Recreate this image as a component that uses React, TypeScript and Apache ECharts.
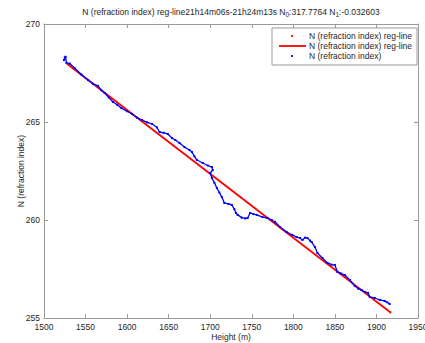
import React, { useEffect, useRef } from 'react';
import * as echarts from 'echarts';

// Measured series: height (m) and refraction index N
const heights = [
  1524, 1525, 1526, 1527, 1531, 1537, 1545, 1553, 1559, 1565, 1569, 1573, 1578, 1583, 1588, 1593,
  1600, 1606, 1612, 1618, 1624, 1630, 1636, 1639, 1644, 1649, 1654, 1658, 1663, 1669, 1675, 1678,
  1681, 1684, 1691, 1697, 1702, 1703, 1700, 1702, 1705, 1708, 1711, 1714, 1717, 1722, 1726, 1729,
  1731, 1733, 1738, 1742, 1745, 1748, 1752, 1756, 1763, 1769, 1774, 1778, 1784, 1792, 1799, 1804,
  1808, 1811, 1814, 1817, 1820, 1822, 1826, 1829, 1835, 1841, 1846, 1850, 1853, 1857, 1862, 1868,
  1874, 1878, 1882, 1886, 1890, 1892, 1898, 1904, 1910, 1913, 1916,
];
const refraction = [
  268.16, 268.30, 268.33, 268.02, 267.98, 267.74, 267.42, 267.14, 266.95, 266.84, 266.62, 266.48, 266.25, 266.02, 265.88, 265.71,
  265.55, 265.41, 265.22, 265.10, 264.98, 264.90, 264.72, 264.49, 264.45, 264.39, 264.18, 264.08, 263.93, 263.72, 263.57, 263.47,
  263.25, 263.06, 262.91, 262.78, 262.70, 262.55, 262.40, 262.14, 261.90, 261.63, 261.40, 261.17, 260.87, 260.82, 260.77, 260.55,
  260.36, 260.26, 260.12, 260.08, 260.10, 260.36, 260.30, 260.26, 260.15, 260.10, 260.00, 259.90, 259.64, 259.39, 259.23, 259.13,
  259.08, 258.98, 259.10, 259.08, 258.95, 258.88, 258.62, 258.32, 258.06, 257.81, 257.72, 257.70, 257.35, 257.28, 257.19, 256.94,
  256.63, 256.50, 256.43, 256.33, 256.28, 256.07, 256.02, 255.92, 255.87, 255.80, 255.71,
];

// Regression line end points (N0 = 317.7764, N1 = -0.032603)
const regHeights = [1528, 1917];
const regValues = [267.96, 255.28];

const xMin = 1500, xMax = 1950, xStep = 50;
const yMin = 255, yMax = 270, yStep = 5;

const legendLabels = [
  'N (refraction index) reg-line',
  'N (refraction index) reg-line',
  'N (refraction index)',
];

const FONT = '"Liberation Sans", Arial, Helvetica, sans-serif';
const AXIS_COLOR = '#999999';
const TEXT_COLOR = '#262626';

export default function App() {
  const ref = useRef<HTMLDivElement>(null);

  useEffect(() => {
    if (!ref.current) return;
    const chart = echarts.init(ref.current, undefined, { renderer: 'svg' });

    const measured = heights.map((h, i) => [h, refraction[i]]);
    const reg = regHeights.map((h, i) => [h, regValues[i]]);

    const axisCommon = {
      type: 'value' as const,
      axisLine: { show: true, lineStyle: { color: AXIS_COLOR, width: 1 } },
      axisTick: { show: true, inside: true, length: 4, lineStyle: { color: AXIS_COLOR } },
      splitLine: { show: false },
    };

    const lx = 272, ly = 28, lw = 145, lh = 37;
    const rows = [36, 46, 56];
    const plain = (v: number) => String(v);

    chart.setOption({
      animation: false,
      grid: { left: 44, right: 7, top: 24, bottom: 25, containLabel: false, outerBoundsMode: 'none' },
      xAxis: [
        {
          ...axisCommon,
          min: xMin, max: xMax, interval: xStep, position: 'bottom',
          axisLabel: { fontSize: 8.5, fontFamily: FONT, color: TEXT_COLOR, margin: 4, formatter: plain },
          name: 'Height (m)', nameLocation: 'middle', nameGap: 14, nameMoveOverlap: false,
          nameTextStyle: { fontSize: 8.5, fontFamily: FONT, color: TEXT_COLOR },
        },
        {
          ...axisCommon,
          min: xMin, max: xMax, interval: xStep, position: 'top',
          axisLabel: { show: false },
        },
      ],
      yAxis: [
        {
          ...axisCommon,
          min: yMin, max: yMax, interval: yStep, position: 'left',
          axisLabel: { fontSize: 8.5, fontFamily: FONT, color: TEXT_COLOR, margin: 4, formatter: plain },
          name: 'N (refraction index)', nameLocation: 'middle', nameGap: 19, nameMoveOverlap: false,
          nameTextStyle: { fontSize: 8.5, fontFamily: FONT, color: TEXT_COLOR },
        },
        {
          ...axisCommon,
          min: yMin, max: yMax, interval: yStep, position: 'right',
          axisLabel: { show: false },
        },
      ],
      series: [
        {
          name: 'reg-dots',
          type: 'scatter',
          data: reg,
          symbolSize: 2,
          itemStyle: { color: '#ff0000' },
          z: 3,
        },
        {
          name: 'reg-line',
          type: 'line',
          data: reg,
          symbol: 'none',
          lineStyle: { color: '#ff0000', width: 1.8 },
          z: 2,
        },
        {
          name: 'N',
          type: 'line',
          data: measured,
          symbol: 'rect',
          symbolSize: 2,
          showSymbol: true,
          itemStyle: { color: '#0000ff' },
          lineStyle: { color: '#0000ff', width: 1.3 },
          z: 4,
        },
      ],
      graphic: [
        {
          type: 'text',
          style: {
            x: 231, y: 12, align: 'center', verticalAlign: 'middle',
            text: '{a|N (refraction index) reg-line21h14m06s-21h24m13s N}{s|0}{a|:317.7764 N}{s|1}{a|:-0.032603}',
            fontFamily: FONT, fontSize: 8.5, fill: TEXT_COLOR,
            rich: {
              a: { fontFamily: FONT, fontSize: 8.5, lineHeight: 12, fill: TEXT_COLOR },
              s: { fontFamily: FONT, fontSize: 6.5, lineHeight: 7, verticalAlign: 'bottom', fill: TEXT_COLOR },
            },
          },
        },
        {
          type: 'rect',
          shape: { x: lx, y: ly, width: lw, height: lh },
          style: { fill: '#ffffff', stroke: AXIS_COLOR, lineWidth: 1 },
          z: 10,
        },
        {
          type: 'circle',
          shape: { cx: 292, cy: rows[0], r: 1.1 },
          style: { fill: '#ff0000' },
          z: 11,
        },
        {
          type: 'line',
          shape: { x1: 279, y1: rows[1], x2: 306, y2: rows[1] },
          style: { stroke: '#ff0000', lineWidth: 1.8 },
          z: 11,
        },
        {
          type: 'circle',
          shape: { cx: 292, cy: rows[2], r: 1.1 },
          style: { fill: '#0000ff' },
          z: 11,
        },
        ...legendLabels.map((t, i) => ({
          type: 'text',
          style: {
            x: 309, y: rows[i], text: t, align: 'left', verticalAlign: 'middle',
            fontFamily: FONT, fontSize: 8.5, fill: TEXT_COLOR,
          },
          z: 11,
        })),
      ],
    });

    return () => chart.dispose();
  }, []);

  return <div ref={ref} style={{ width: 425, height: 343, position: 'absolute', left: 0, top: 0, background: '#fff' }} />;
}
